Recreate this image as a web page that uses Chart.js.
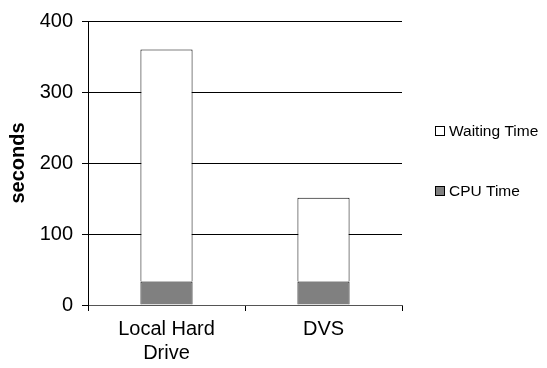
<!DOCTYPE html>
<html>
<head>
<meta charset="utf-8">
<script src="https://cdn.jsdelivr.net/npm/chart.js@4/dist/chart.umd.min.js"></script>
<style>
  html, body { margin: 0; padding: 0; background: #fff; }
  #wrap { width: 547px; height: 368px; position: relative; }
</style>
</head>
<body>
<div id="wrap"><canvas id="chart" width="547" height="368"></canvas></div>
<script>
  const categories = [['Local Hard', 'Drive'], 'DVS'];
  const cpuTime = [33, 33];
  const waitingTime = [327, 118];
  const yTicks = [0, 100, 200, 300, 400];

  const font = 'Liberation Sans, Arial, sans-serif';

  // Excel style legend on the right, drawn on the canvas
  const sideLegend = {
    id: 'sideLegend',
    afterDraw(chart) {
      const ctx = chart.ctx;
      const items = chart.data.datasets.slice().reverse();
      const rows = [131, 191];
      ctx.save();
      ctx.font = '15.5px ' + font;
      ctx.textBaseline = 'middle';
      items.forEach((ds, i) => {
        const y = rows[i];
        ctx.fillStyle = ds.backgroundColor;
        ctx.fillRect(435.5, y - 4.5, 9, 9);
        ctx.strokeStyle = '#000';
        ctx.lineWidth = 1;
        ctx.strokeRect(435.5, y - 4.5, 9, 9);
        ctx.fillStyle = '#000';
        ctx.fillText(ds.label, 449, y + 1);
      });
      ctx.restore();
    }
  };

  new Chart(document.getElementById('chart'), {
    type: 'bar',
    data: {
      labels: categories,
      datasets: [
        {
          label: 'CPU Time',
          data: cpuTime,
          backgroundColor: '#808080',
          borderColor: '#000',
          borderWidth: 1,
          barPercentage: 0.332,
          categoryPercentage: 1
        },
        {
          label: 'Waiting Time',
          data: waitingTime,
          backgroundColor: '#ffffff',
          borderColor: '#000',
          borderWidth: 1,
          barPercentage: 0.332,
          categoryPercentage: 1
        }
      ]
    },
    options: {
      responsive: false,
      animation: false,
      layout: { padding: { top: 17, right: 145, left: 0, bottom: 0 } },
      plugins: {
        legend: { display: false },
        tooltip: { enabled: false }
      },
      scales: {
        x: {
          stacked: true,
          grid: { offset: true, drawOnChartArea: false, drawTicks: true, tickLength: 6, color: '#000' },
          border: { color: '#555', width: 1 },
          ticks: { color: '#000', font: { family: font, size: 20 }, padding: 6, maxRotation: 0 },
          afterFit(scale) { scale.height = 63; }
        },
        y: {
          stacked: true,
          min: 0,
          max: 400,
          afterBuildTicks(scale) { scale.ticks = yTicks.map(v => ({ value: v })); },
          grid: { color: '#000', tickLength: 6 },
          border: { color: '#000', width: 1 },
          ticks: { color: '#000', font: { family: font, size: 20 }, padding: 9 },
          title: { display: true, text: 'seconds', color: '#000', font: { family: font, size: 20, weight: 'bold' }, padding: { top: 6, bottom: 4 } },
          afterFit(scale) { scale.width = 88; }
        }
      }
    },
    plugins: [sideLegend]
  });
</script>
</body>
</html>
